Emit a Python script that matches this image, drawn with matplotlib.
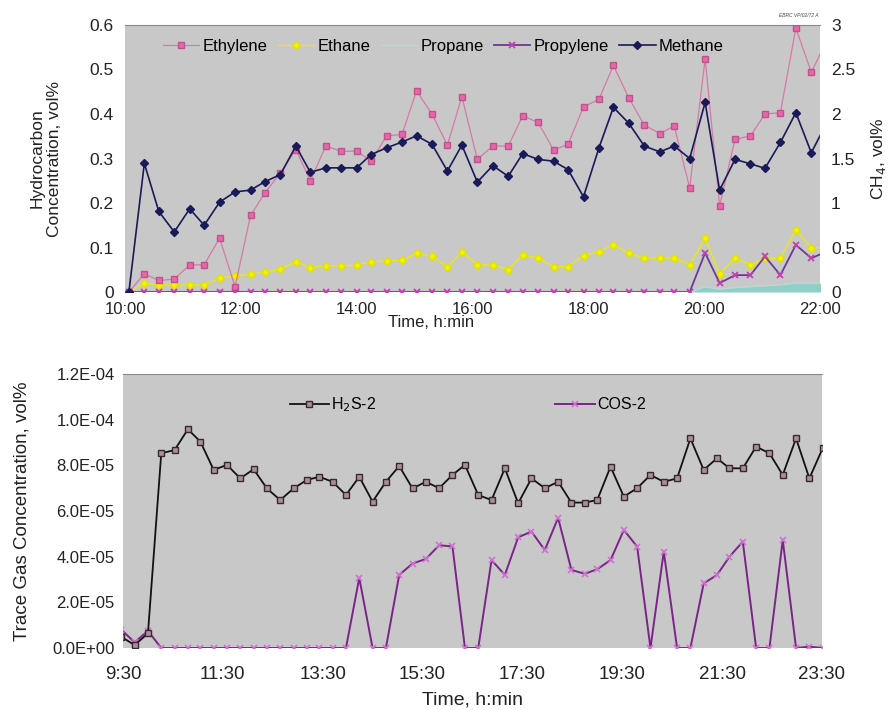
import matplotlib
matplotlib.use("Agg")
import matplotlib.pyplot as plt
from matplotlib.ticker import FixedLocator, FuncFormatter

plt.rcParams['font.family'] = ['Liberation Sans', 'DejaVu Sans']
plt.rcParams['font.size'] = 12

# ---------------- Hydrocarbons (upper panel) ----------------
hc_times = ["10:04", "10:20", "10:35", "10:51", "11:07", "11:22", "11:38", "11:54",
            "12:10", "12:25", "12:41", "12:57", "13:12", "13:28", "13:44", "14:00",
            "14:15", "14:31", "14:47", "15:02", "15:18", "15:34", "15:49", "16:05",
            "16:21", "16:37", "16:52", "17:08", "17:24", "17:39", "17:55", "18:11",
            "18:26", "18:42", "18:58", "19:14", "19:29", "19:45", "20:01", "20:16",
            "20:32", "20:48", "21:03", "21:19", "21:35", "21:51", "22:06"]

ethylene = [0.0, 0.041, 0.026, 0.029, 0.061, 0.061, 0.121, 0.012, 0.172, 0.223,
            0.268, 0.320, 0.250, 0.328, 0.316, 0.317, 0.294, 0.351, 0.354, 0.452,
            0.400, 0.330, 0.439, 0.298, 0.328, 0.328, 0.396, 0.381, 0.319, 0.332,
            0.416, 0.433, 0.509, 0.436, 0.375, 0.356, 0.373, 0.234, 0.524, 0.194,
            0.343, 0.351, 0.400, 0.403, 0.593, 0.494, 0.560]

ethane = [0.0, 0.020, 0.016, 0.016, 0.016, 0.016, 0.031, 0.036, 0.040, 0.044,
          0.052, 0.068, 0.055, 0.059, 0.059, 0.060, 0.068, 0.070, 0.071, 0.087,
          0.080, 0.057, 0.089, 0.061, 0.061, 0.050, 0.084, 0.076, 0.057, 0.057,
          0.082, 0.091, 0.106, 0.087, 0.076, 0.076, 0.076, 0.061, 0.121, 0.041,
          0.076, 0.061, 0.076, 0.076, 0.140, 0.099, 0.100]

propane = [0.0] * 38 + [0.012, 0.006, 0.010, 0.012, 0.014, 0.016, 0.020, 0.020, 0.020]

propylene = [0.0] * 38 + [0.088, 0.020, 0.038, 0.038, 0.080, 0.038, 0.106, 0.076, 0.090]

# CH4 in vol%, plotted against the right-hand axis
methane = [0.0, 1.445, 0.905, 0.675, 0.935, 0.750, 1.010, 1.125, 1.145, 1.240,
           1.320, 1.640, 1.345, 1.395, 1.395, 1.395, 1.545, 1.620, 1.685, 1.755,
           1.660, 1.360, 1.650, 1.235, 1.420, 1.300, 1.555, 1.490, 1.470, 1.375,
           1.070, 1.620, 2.075, 1.895, 1.640, 1.575, 1.640, 1.500, 2.130, 1.145,
           1.490, 1.440, 1.390, 1.680, 2.015, 1.565, 1.880]

hc_ticks = ["10:00", "12:00", "14:00", "16:00", "18:00", "20:00", "22:00"]
hc_left_ticks = [0, 0.1, 0.2, 0.3, 0.4, 0.5, 0.6]
hc_right_ticks = [0, 0.5, 1, 1.5, 2, 2.5, 3]

# ---------------- Trace sulfur gases (lower panel) ----------------
trace_times = ["9:28", "9:44", "10:00", "10:16", "10:32", "10:48", "11:03", "11:19",
               "11:35", "11:51", "12:07", "12:23", "12:39", "12:55", "13:11", "13:26",
               "13:42", "13:58", "14:14", "14:30", "14:46", "15:02", "15:18", "15:34",
               "15:50", "16:06", "16:21", "16:37", "16:53", "17:09", "17:25", "17:41",
               "17:57", "18:13", "18:29", "18:45", "19:00", "19:16", "19:32", "19:48",
               "20:04", "20:20", "20:36", "20:52", "21:08", "21:24", "21:39", "21:55",
               "22:11", "22:27", "22:43", "22:59", "23:15", "23:31"]

h2s = [0.49e-5, 0.13e-5, 0.64e-5, 8.53e-5, 8.67e-5, 9.58e-5, 9.04e-5, 7.80e-5,
       8.02e-5, 7.43e-5, 7.83e-5, 6.99e-5, 6.48e-5, 6.99e-5, 7.36e-5, 7.50e-5,
       7.28e-5, 6.70e-5, 7.50e-5, 6.41e-5, 7.28e-5, 7.97e-5, 6.99e-5, 7.28e-5,
       7.00e-5, 7.58e-5, 8.02e-5, 6.70e-5, 6.48e-5, 7.87e-5, 6.34e-5, 7.43e-5,
       7.00e-5, 7.28e-5, 6.37e-5, 6.37e-5, 6.48e-5, 7.94e-5, 6.63e-5, 7.00e-5,
       7.58e-5, 7.28e-5, 7.43e-5, 9.18e-5, 7.80e-5, 8.31e-5, 7.87e-5, 7.87e-5,
       8.82e-5, 8.53e-5, 7.58e-5, 9.18e-5, 7.43e-5, 8.75e-5]

cos = [0.80e-5, 0.25e-5, 0.75e-5, 0.0, 0.0, 0.0, 0.0, 0.0,
       0.0, 0.0, 0.0, 0.0, 0.0, 0.0, 0.0, 0.0,
       0.0, 0.0, 3.07e-5, 0.0, 0.0, 3.20e-5, 3.70e-5, 3.90e-5,
       4.50e-5, 4.45e-5, 0.0, 0.0, 3.85e-5, 3.20e-5, 4.85e-5, 5.10e-5,
       4.29e-5, 5.70e-5, 3.42e-5, 3.25e-5, 3.45e-5, 3.85e-5, 5.17e-5, 4.44e-5,
       0.0, 4.22e-5, 0.0, 0.0, 2.83e-5, 3.20e-5, 4.00e-5, 4.66e-5,
       0.0, 0.0, 4.73e-5, 0.0, 0.06e-5, 0.0]

trace_ticks = ["9:30", "11:30", "13:30", "15:30", "17:30", "19:30", "21:30", "23:30"]
trace_yticks = [0, 2e-5, 4e-5, 6e-5, 8e-5, 1e-4, 1.2e-4]


def hours(stamps):
    out = []
    for s in stamps:
        h, m = s.split(":")
        out.append(int(h) + int(m) / 60.0)
    return out


PANEL_BG = "#c8c8c8"
TXT = "#222222"

fig = plt.figure(figsize=(8.88, 7.10), dpi=100)

# ---------- upper panel ----------
ax1 = fig.add_axes([0.1408, 0.5887, 0.7826, 0.3761])
ax1r = ax1.twinx()
ax1.set_facecolor(PANEL_BG)
ax1.set_zorder(ax1r.get_zorder() - 1)
ax1r.patch.set_visible(False)

t_hc = hours(hc_times)
ax1.fill_between(t_hc, propane, 0, color="#8fcfc6", lw=0, zorder=1)
l_eth, = ax1.plot(t_hc, ethylene, color="#d47aa6", lw=0.9, marker="s", ms=5,
                  mfc="#e26aa6", mec="#c45090", zorder=3, label="Ethylene")
l_etha, = ax1.plot(t_hc, ethane, color="#eaea10", lw=1.0, marker="D", ms=4.5,
                   mfc="#f2f200", mec="#e0e000", zorder=2, label="Ethane")
l_prop, = ax1.plot(t_hc, propane, color="#bcd8d4", lw=1.0, zorder=2, label="Propane")
l_pyl, = ax1.plot(t_hc, propylene, color="#6c3a94", lw=1.3, marker="x", ms=4.5,
                  mec="#c040b0", mew=1.3, zorder=4, label="Propylene")
l_me, = ax1r.plot(hours(hc_times), methane, color="#1a1a58", lw=1.2, marker="D",
                  ms=4.5, mfc="#1a1a58", mec="#1a1a58", zorder=5, label="Methane")

ax1.set_xlim(10, 22)
ax1.set_ylim(0, 0.6)
ax1r.set_ylim(0, 3)
ax1.xaxis.set_major_locator(FixedLocator(hours(hc_ticks)))
ax1.set_xticklabels(hc_ticks)
ax1.yaxis.set_major_locator(FixedLocator(hc_left_ticks))
ax1.yaxis.set_major_formatter(FuncFormatter(lambda v, p: f"{v:g}"))
ax1r.yaxis.set_major_locator(FixedLocator(hc_right_ticks))
ax1r.yaxis.set_major_formatter(FuncFormatter(lambda v, p: f"{v:g}"))

for a in (ax1, ax1r):
    a.tick_params(length=0, labelsize=12.5, colors=TXT, pad=8)
    for sp in a.spines.values():
        sp.set_visible(False)
ax1.spines["top"].set_visible(True)
ax1.spines["top"].set_color("#8a8a8a")
ax1.tick_params(axis="x", labelsize=12, pad=7)

ax1.set_ylabel("Hydrocarbon\nConcentration, vol%", fontsize=12.5, labelpad=20,
               color=TXT)
ax1r.set_ylabel("CH$_4$, vol%", fontsize=12.5, labelpad=10, color=TXT)
ax1.set_xlabel("Time, h:min", fontsize=12, color=TXT)
ax1.xaxis.set_label_coords(0.44, -0.085)

ax1.legend(handles=[l_eth, l_etha, l_prop, l_pyl, l_me], loc="upper left",
           bbox_to_anchor=(0.04, 0.985), ncol=5, frameon=False, fontsize=12,
           handlelength=2.2, columnspacing=0.6, handletextpad=0.2,
           borderaxespad=0.2)

fig.text(0.922, 0.978, "EBRC VP/02/72 A", fontsize=3.5, style="italic",
         ha="right", va="center", color="#444444")

# ---------- lower panel ----------
ax2 = fig.add_axes([0.1385, 0.0873, 0.787, 0.3859])
ax2.set_facecolor(PANEL_BG)
t_tr = hours(trace_times)
ax2.plot(t_tr, h2s, color="#111111", lw=1.3, marker="s", ms=5,
         mfc="#a89098", mec="#3a2830", mew=1.0, label="H$_2$S-2", zorder=3)
ax2.plot(t_tr, cos, color="#7a2488", lw=1.4, marker="x", ms=5,
         mec="#d070d0", mew=1.2, label="COS-2", zorder=2)

ax2.set_xlim(9.5, 23.5)
ax2.set_ylim(0, 1.2e-4)
ax2.xaxis.set_major_locator(FixedLocator(hours(trace_ticks)))
ax2.set_xticklabels(trace_ticks)
ax2.yaxis.set_major_locator(FixedLocator(trace_yticks))
ax2.yaxis.set_major_formatter(FuncFormatter(lambda v, p: f"{v:.1E}"))
ax2.tick_params(length=0, colors=TXT)
ax2.tick_params(axis="y", labelsize=12, pad=6)
ax2.tick_params(axis="x", labelsize=13.5, pad=13)
for sp in ax2.spines.values():
    sp.set_visible(False)
ax2.spines["top"].set_visible(True)
ax2.spines["top"].set_color("#8a8a8a")

ax2.set_ylabel("Trace Gas Concentration, vol%", fontsize=13.5, labelpad=16,
               color=TXT)
ax2.set_xlabel("Time, h:min", fontsize=14, labelpad=6, color=TXT)

ax2.legend(loc="upper center", bbox_to_anchor=(0.493, 0.975), ncol=2, frameon=False,
           fontsize=11.5, handlelength=2.5, columnspacing=11.2, handletextpad=0.1)

fig.savefig("out.png", dpi=100, facecolor="white")
